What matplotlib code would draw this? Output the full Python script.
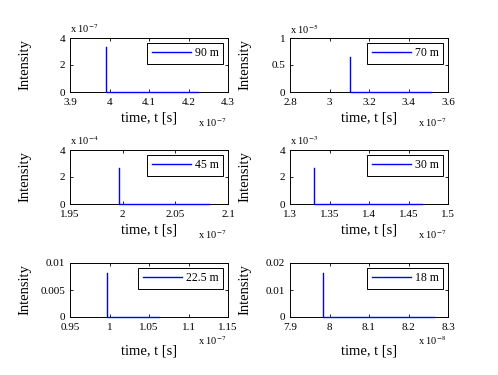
import numpy as np
import matplotlib
matplotlib.use("Agg")
import matplotlib.pyplot as plt
from matplotlib.ticker import FuncFormatter

plt.rcParams['font.family'] = ['Liberation Serif', 'DejaVu Serif']
plt.rcParams['mathtext.fontset'] = 'stix'

# distances (legend labels)
labels = ['90 m', '70 m', '45 m', '30 m', '22.5 m', '18 m']

# time samples [s] and intensity for each range (spike, drop, tail end)
t_90 = [3.991e-7, 3.991e-7, 4.223e-7]
i_90 = [3.37e-7, 0.0, 0.0]
t_70 = [3.104e-7, 3.104e-7, 3.514e-7]
i_70 = [0.657e-5, 0.0, 0.0]
t_45 = [1.9965e-7, 1.9965e-7, 2.082e-7]
i_45 = [2.63e-4, 0.0, 0.0]
t_30 = [1.3304e-7, 1.3304e-7, 1.4667e-7]
i_30 = [2.69e-3, 0.0, 0.0]
t_22 = [0.9972e-7, 0.9972e-7, 1.0627e-7]
i_22 = [0.0082, 0.0, 0.0]
t_18 = [7.984e-8, 7.984e-8, 8.265e-8]
i_18 = [0.0164, 0.0, 0.0]

times = [t_90, t_70, t_45, t_30, t_22, t_18]
intens = [i_90, i_70, i_45, i_30, i_22, i_18]

# axis settings
x_exp = [-7, -7, -7, -7, -7, -8]
x_ticks = [[3.9, 4.0, 4.1, 4.2, 4.3],
           [2.8, 3.0, 3.2, 3.4, 3.6],
           [1.95, 2.0, 2.05, 2.1],
           [1.3, 1.35, 1.4, 1.45, 1.5],
           [0.95, 1.0, 1.05, 1.1, 1.15],
           [7.9, 8.0, 8.1, 8.2, 8.3]]
y_exp = [-7, -5, -4, -3, 0, 0]
y_ticks = [[0, 2, 4], [0, 0.5, 1], [0, 2, 4], [0, 2, 4],
           [0, 0.005, 0.01], [0, 0.01, 0.02]]

W, H = 498, 375
fig = plt.figure(figsize=(W / 100, H / 100), dpi=100)

lefts = [70, 290]
tops = [38, 150, 263]
aw, ah = 158, 54

for k in range(6):
    r, c = divmod(k, 2)
    x0, y0 = lefts[c], tops[r]
    ax = fig.add_axes([x0 / W, 1 - (y0 + ah) / H, aw / W, ah / H])
    xs = 10.0 ** x_exp[k]
    ys = 10.0 ** y_exp[k]
    ax.plot(times[k], intens[k], color='#0000ff', lw=1.0, label=labels[k],
            clip_on=False, zorder=3)
    xt = np.array(x_ticks[k]) * xs
    yt = np.array(y_ticks[k]) * ys
    ax.set_xlim(xt[0], xt[-1])
    ax.set_ylim(yt[0], yt[-1])
    ax.set_xticks(xt)
    ax.set_yticks(yt)
    ax.xaxis.set_major_formatter(FuncFormatter(lambda v, p, s=xs: '%g' % round(v / s, 6)))
    ax.yaxis.set_major_formatter(FuncFormatter(lambda v, p, s=ys: '%g' % round(v / s, 6)))
    ax.tick_params(direction='in', top=True, right=True, length=2.5, width=0.6,
                   labelsize=8)
    ax.tick_params(axis='x', pad=4)
    ax.tick_params(axis='y', pad=3.5)
    for sp in ax.spines.values():
        sp.set_linewidth(0.7)
    leg = ax.legend(loc='upper right', fontsize=8.5, handlelength=3.3,
                    fancybox=False, borderaxespad=0.4, borderpad=0.4,
                    handletextpad=0.35, framealpha=1)
    leg.get_frame().set_edgecolor('black')
    leg.get_frame().set_linewidth(0.7)

    # y label
    fig.text((x0 - 45) / W, 1 - (y0 + ah / 2) / H, 'Intensity', rotation=90,
             ha='center', va='center', fontsize=10.5)
    # x label and exponents
    if r < 2:
        xl_y, ex_y = y0 + ah + 26, y0 + ah + 31
    else:
        xl_y, ex_y = y0 + ah + 34, y0 + ah + 24
    fig.text((x0 + aw / 2) / W, 1 - xl_y / H, 'time, t [s]', ha='center',
             va='center', fontsize=10.5)
    fig.text((x0 + aw - 30) / W, 1 - ex_y / H, 'x 10$^{%d}$' % x_exp[k],
             ha='left', va='center', fontsize=7.5)
    if y_exp[k] != 0:
        fig.text(x0 / W, 1 - (y0 - 9) / H, 'x 10$^{%d}$' % y_exp[k],
                 ha='left', va='center', fontsize=7.5)

fig.savefig('out.png', dpi=100)
